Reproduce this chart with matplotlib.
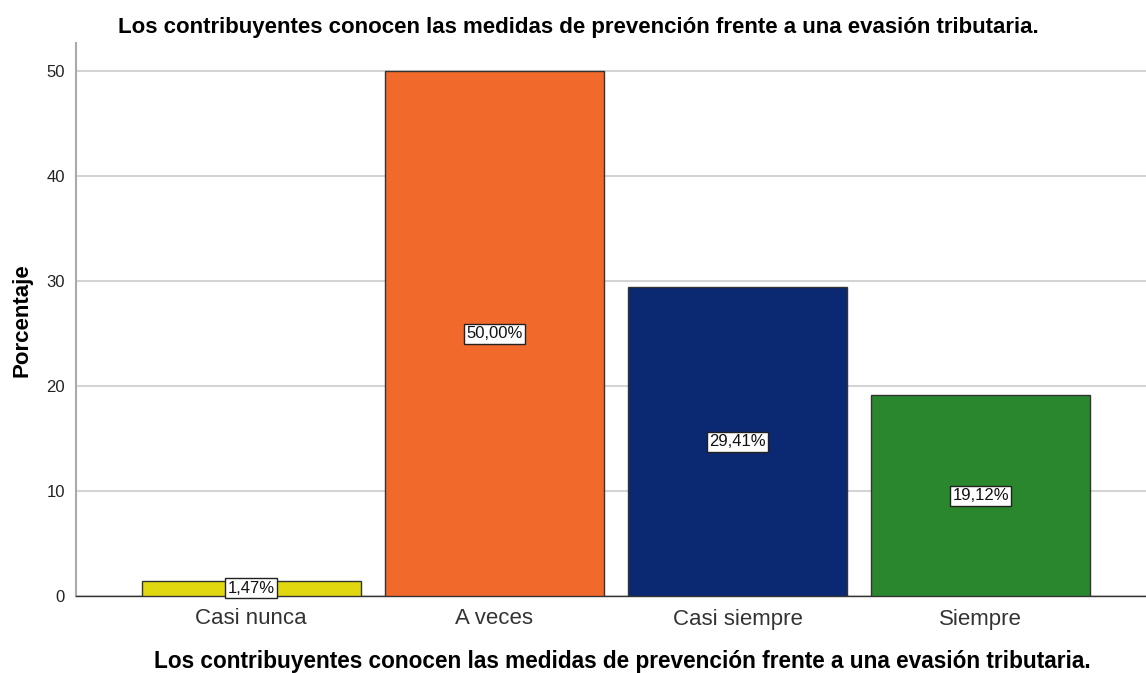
import matplotlib
matplotlib.use("Agg")
import matplotlib.pyplot as plt

categories = ["Casi nunca", "A veces", "Casi siempre", "Siempre"]
values = [1.47, 50.00, 29.41, 19.12]
labels = ["1,47%", "50,00%", "29,41%", "19,12%"]
colors = ["#e2d810", "#f2692c", "#0b2873", "#2a872d"]
title = "Los contribuyentes conocen las medidas de prevención frente a una evasión tributaria."

plt.rcParams['font.family'] = ['Liberation Sans', 'DejaVu Sans']

fig = plt.figure(figsize=(11.46, 6.73), dpi=100)
ax = fig.add_axes([76/1146, 1-596/673, (1146-76)/1146, (596-43)/673])

x = list(range(len(categories)))
ax.bar(x, values, width=0.9, color=colors, edgecolor="#333333", linewidth=1.0, zorder=3)
for xi, v, lab in zip(x, values, labels):
    ax.text(xi, v/2, lab, ha="center", va="center", fontsize=12, color="#111111", zorder=4,
            bbox=dict(boxstyle="square,pad=0.15", facecolor="white", edgecolor="#222222", linewidth=1.0))

ax.set_xlim(-0.72, 3.68)
ax.set_ylim(0, 52.67)
ax.set_yticks([0, 10, 20, 30, 40, 50])
ax.set_xticks(x)
ax.set_xticklabels(categories, fontsize=16, color="#333333")
ax.tick_params(axis="x", length=0, pad=9)
ax.tick_params(axis="y", length=0, labelsize=12, labelcolor="#222222", pad=8)
ax.yaxis.grid(True, color="#d4d4d4", linewidth=1.5, zorder=0)
ax.set_axisbelow(True)
for s in ["top", "right"]:
    ax.spines[s].set_visible(False)
ax.spines["left"].set_color("#aaaaaa")
ax.spines["left"].set_linewidth(1.5)
ax.spines["bottom"].set_color("#333333")
ax.spines["bottom"].set_linewidth(1.0)

fig.text(22/1146, 1-320/673, "Porcentaje", rotation=90, ha="center", va="center",
         fontsize=16, fontweight="bold")
fig.text(622/1146, 1-668/673, title, ha="center", va="baseline", fontsize=16.3, fontweight="bold")
fig.text(578/1146, 1-27/673, title, ha="center", va="center", fontsize=16, fontweight="bold")

fig.savefig("out.png", dpi=100)
